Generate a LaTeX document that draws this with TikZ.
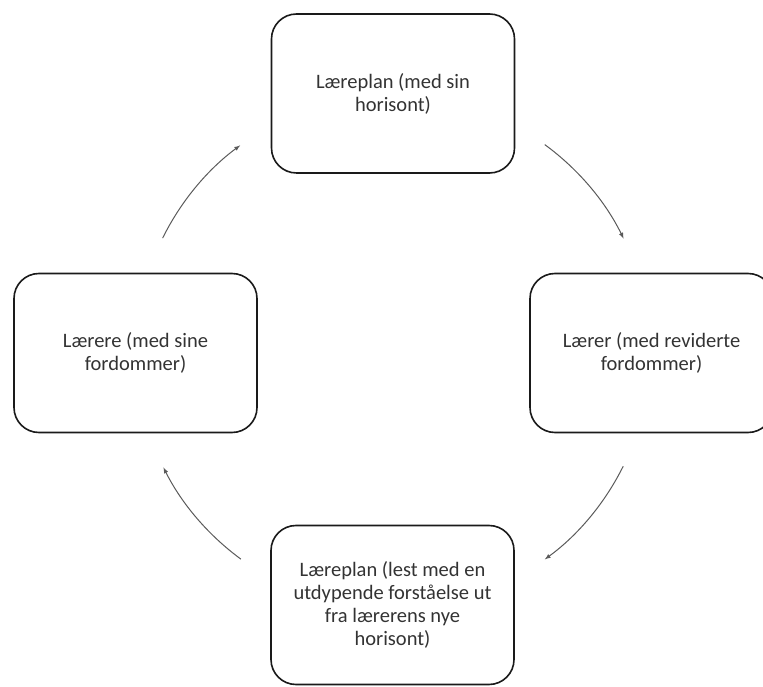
\documentclass[tikz,border=0pt]{standalone}
\usepackage{fontspec}
\setmainfont{Carlito}
\usetikzlibrary{calc}

\definecolor{boxline}{HTML}{1a1a1a}
\definecolor{boxtext}{HTML}{333333}
\definecolor{cyclegray}{HTML}{5a5a5a}

\tikzset{
  stagebox/.style={draw=boxline, line width=1.6pt, rounded corners=25pt,
    minimum width=243pt, minimum height=159pt, inner sep=0pt,
    align=center, text=boxtext, font=\fontsize{20.5}{23}\selectfont},
  cyclearrow/.style={draw=cyclegray, line width=1pt, -latex},
}

\begin{document}
\begin{tikzpicture}[x=1pt,y=1pt]
  \useasboundingbox (0,0) rectangle (763,686);
  \node[stagebox] (plan) at (393,592.5) {Læreplan (med sin\\horisont)};
  \node[stagebox] (teacher) at (135.5,333) {Lærere (med sine\\fordommer)};
  \node[stagebox] (revised) at (651.5,333) {Lærer (med reviderte\\fordommer)};
  \node[stagebox] (reread) at (392.5,81) {Læreplan (lest med en\\utdypende forståelse ut\\fra lærerens nye\\horisont)};
  \coordinate (hub) at (393,334);
  % arcs of one circle round the hub
  \draw[cyclearrow] ($(hub)+(153.7:257)$) arc[start angle=153.7, end angle=126.5, radius=257];
  \draw[cyclearrow] ($(hub)+(53.8:257)$) arc[start angle=53.8, end angle=26.2, radius=257];
  \draw[cyclearrow] ($(hub)+(-26.4:257)$) arc[start angle=-26.4, end angle=-53.8, radius=257];
  \draw[cyclearrow] ($(hub)+(-126.3:257)$) arc[start angle=-126.3, end angle=-153.3, radius=257];
\end{tikzpicture}
\end{document}
